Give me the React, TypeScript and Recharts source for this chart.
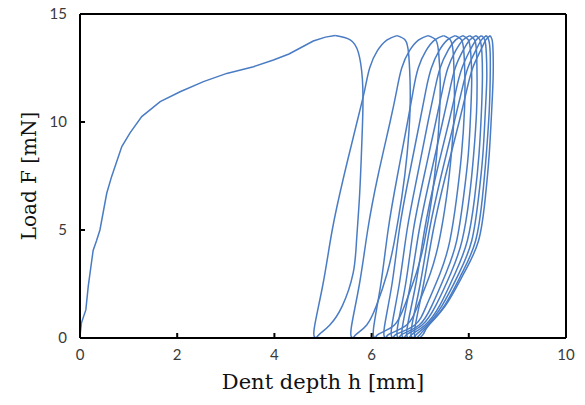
import { Label, Line, LineChart, ReferenceLine, XAxis, YAxis } from "recharts";

const xTicks = [0, 2, 4, 6, 8, 10];
const yTicks = [0, 5, 10, 15];

// first loading curve (virgin panel)
const firstLoadDepths = [0, 0.01, 0.03, 0.12, 0.17, 0.27, 0.34, 0.41, 0.55, 0.65, 0.86, 1.03, 1.27, 1.65, 2.06, 2.54, 3.02, 3.57, 3.98, 4.3, 4.55, 4.8, 5.05, 5.25];
const firstLoadLoads = [0, 0.3, 0.7, 1.3, 2.4, 4.05, 4.5, 5.0, 6.7, 7.47, 8.86, 9.5, 10.25, 10.94, 11.4, 11.87, 12.25, 12.56, 12.87, 13.15, 13.45, 13.75, 13.93, 14.0];

// load levels shared by the repeated cycles
const reloadLoads = [0, 0.45, 2.5, 5, 7.5, 10, 11.5, 12.5, 13.3, 13.8, 14];
const unloadLoads = [14, 13.8, 13.2, 12, 10.5, 8.5, 6.5, 4.5, 3, 1.5, 0.6, 0.2, 0];

// depth on unloading, cycles 1..11
const unloadDepths = [
  [5.25, 5.56, 5.73, 5.81, 5.82, 5.79, 5.75, 5.69, 5.62, 5.4, 5.14, 4.94, 4.86],
  [6.52, 6.69, 6.76, 6.79, 6.79, 6.73, 6.62, 6.47, 6.32, 6.1, 5.9, 5.7, 5.62],
  [7.16, 7.32, 7.38, 7.41, 7.4, 7.34, 7.24, 7.09, 6.92, 6.68, 6.47, 6.16, 6.08],
  [7.48, 7.62, 7.68, 7.7, 7.7, 7.64, 7.54, 7.39, 7.21, 6.95, 6.72, 6.38, 6.3],
  [7.72, 7.85, 7.9, 7.92, 7.91, 7.85, 7.75, 7.61, 7.41, 7.13, 6.89, 6.53, 6.45],
  [7.88, 7.99, 8.04, 8.06, 8.04, 7.99, 7.89, 7.75, 7.53, 7.24, 6.98, 6.65, 6.57],
  [8.02, 8.12, 8.16, 8.17, 8.16, 8.1, 8.01, 7.86, 7.63, 7.32, 7.04, 6.75, 6.67],
  [8.15, 8.23, 8.27, 8.28, 8.26, 8.21, 8.12, 7.97, 7.72, 7.4, 7.1, 6.85, 6.77],
  [8.26, 8.33, 8.36, 8.37, 8.34, 8.29, 8.2, 8.06, 7.8, 7.45, 7.14, 6.94, 6.86],
  [8.36, 8.41, 8.44, 8.44, 8.42, 8.36, 8.28, 8.14, 7.86, 7.5, 7.17, 7.01, 6.93],
  [8.44, 8.48, 8.5, 8.5, 8.47, 8.42, 8.34, 8.2, 7.9, 7.52, 7.18, 7.07, 6.99]
];

// depth on reloading, cycles 2..11
const reloadDepths = [
  [4.86, 4.82, 5.0, 5.19, 5.43, 5.7, 5.86, 5.96, 6.12, 6.32, 6.52],
  [5.62, 5.58, 5.75, 5.92, 6.13, 6.38, 6.52, 6.62, 6.78, 6.97, 7.16],
  [6.08, 6.04, 6.19, 6.34, 6.53, 6.74, 6.86, 6.96, 7.12, 7.3, 7.48],
  [6.3, 6.26, 6.42, 6.57, 6.77, 6.99, 7.12, 7.23, 7.39, 7.56, 7.72],
  [6.45, 6.41, 6.57, 6.73, 6.94, 7.16, 7.3, 7.41, 7.57, 7.73, 7.88],
  [6.57, 6.53, 6.7, 6.86, 7.08, 7.32, 7.46, 7.57, 7.73, 7.88, 8.02],
  [6.67, 6.63, 6.8, 6.98, 7.21, 7.46, 7.61, 7.72, 7.88, 8.02, 8.15],
  [6.77, 6.73, 6.91, 7.09, 7.32, 7.59, 7.74, 7.86, 8.02, 8.15, 8.26],
  [6.86, 6.82, 7.0, 7.19, 7.43, 7.7, 7.86, 7.98, 8.14, 8.26, 8.36],
  [6.93, 6.89, 7.07, 7.27, 7.52, 7.8, 7.96, 8.08, 8.24, 8.35, 8.44]
];

const pts = (hs: number[], fs: number[]) => hs.map((h, i) => ({ h, f: fs[i] }));

// each branch kept separate so the corners at zero load stay sharp
const branches = [pts(firstLoadDepths, firstLoadLoads), pts(unloadDepths[0], unloadLoads)];
reloadDepths.forEach((r, i) => {
  branches.push(pts(r, reloadLoads));
  branches.push(pts(unloadDepths[i + 1], unloadLoads));
});

const tickFont = { fontFamily: "Lato, 'Open Sans', sans-serif", fontSize: 15, fill: "#3a3a3a" };
const titleFont = "'DejaVu Serif', serif";
const blue = "#4a7cc4";

const XTick = (props: any) => {
  const { x, y, payload } = props;
  return (
    <g>
      <line x1={x} x2={x} y1={y} y2={y - 5} stroke="#000" strokeWidth={2} />
      <text x={x} y={y + 22} textAnchor="middle" {...tickFont}>{payload.value}</text>
    </g>
  );
};

const YTick = (props: any) => {
  const { x, y, payload } = props;
  return (
    <g>
      <line x1={x} x2={x + 5} y1={y} y2={y} stroke="#000" strokeWidth={2} />
      <text x={x - 13} y={y + 5} textAnchor="end" {...tickFont}>{payload.value}</text>
    </g>
  );
};

const XTitle = (props: any) => {
  const vb = props.viewBox;
  return (
    <text x={vb.x + vb.width / 2} y={vb.y + 51} textAnchor="middle" fontFamily={titleFont} fontSize={21} fill="#111">
      Dent depth h [mm]
    </text>
  );
};

const YTitle = (props: any) => {
  const vb = props.viewBox;
  const cx = vb.x + 29;
  const cy = vb.y + vb.height / 2;
  return (
    <text x={cx} y={cy} transform={`rotate(-90, ${cx}, ${cy})`} textAnchor="middle" dominantBaseline="central" fontFamily={titleFont} fontSize={20} fill="#111">
      Load F [mN]
    </text>
  );
};

export default function App() {
  return (
    <div style={{ position: "absolute", left: 0, top: 0, width: 585, height: 405, background: "#fff" }}>
      <LineChart width={585} height={405} margin={{ top: 14, right: 19, bottom: 37, left: 0 }}>
        <XAxis
          type="number"
          dataKey="h"
          domain={[0, 10]}
          ticks={xTicks}
          allowDataOverflow
          tickSize={0}
          tickMargin={0}
          tickLine={false}
          height={30}
          axisLine={{ stroke: "#000", strokeWidth: 2 }}
          tick={<XTick />}
        >
          <Label content={<XTitle />} />
        </XAxis>
        <YAxis
          type="number"
          dataKey="f"
          domain={[0, 15]}
          ticks={yTicks}
          allowDataOverflow
          tickSize={0}
          tickMargin={0}
          tickLine={false}
          width={80}
          axisLine={{ stroke: "#000", strokeWidth: 2 }}
          tick={<YTick />}
        >
          <Label content={<YTitle />} />
        </YAxis>
        <ReferenceLine y={15} stroke="#000" strokeWidth={2} />
        <ReferenceLine x={10} stroke="#000" strokeWidth={2} />
        {branches.map((b, i) => (
          <Line
            key={i}
            data={b}
            dataKey="f"
            type={i === 0 ? "linear" : "natural"}
            stroke={blue}
            strokeWidth={1.5}
            dot={false}
            isAnimationActive={false}
          />
        ))}
      </LineChart>
    </div>
  );
}
